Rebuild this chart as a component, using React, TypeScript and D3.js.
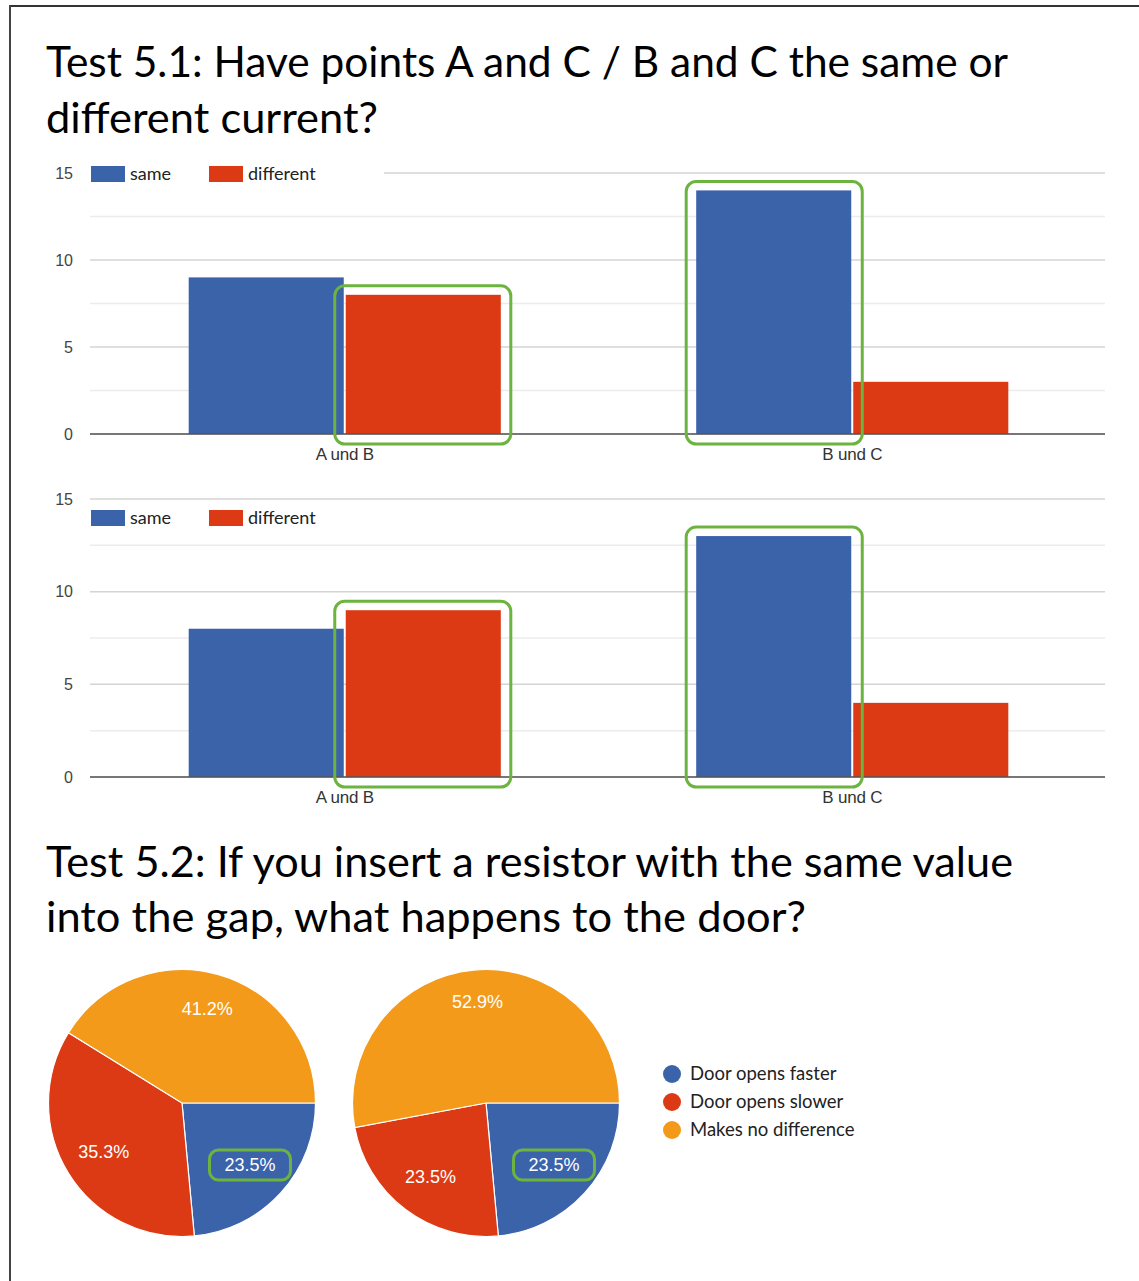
import React from "react";
import * as d3 from "d3";

const categories = ["A und B", "B und C"];
const seriesNames = ["same", "different"];
const chart1Same = [9, 14];
const chart1Different = [8, 3];
const chart2Same = [8, 13];
const chart2Different = [9, 4];
const yTicks = [0, 5, 10, 15];
const yGrid = [0, 2.5, 5, 7.5, 10, 12.5, 15];

const pieLabels = ["Door opens faster", "Door opens slower", "Makes no difference"];
const pie1Counts = [4, 6, 7];
const pie2Counts = [4, 4, 9];

const COLORS = ["#3b63aa", "#dc3a14", "#f39a1b"];
const GREEN = "#6db33f";
const AX_FONT = "'Liberation Sans', Arial, sans-serif";
const TXT_FONT = "Lato, 'Open Sans', sans-serif";

type BarProps = {
  top: number;
  bottom: number;
  same: number[];
  different: number[];
  legendY: number;
  gridMaskRight?: number;
  highlightSeries: string[];
};

function BarChart({ top, bottom, same, different, legendY, gridMaskRight, highlightSeries }: BarProps) {
  const left = 90;
  const right = 1105;
  const y = d3.scaleLinear().domain([0, 15]).range([bottom, top]);
  const x0 = d3.scaleBand().domain(categories).range([left + 1, right + 1]).paddingInner(0.385).paddingOuter(0.1925);
  const x1 = d3.scaleBand().domain(seriesNames).range([0, x0.bandwidth()]);
  const data = categories.map((c, i) => ({ cat: c, same: same[i], different: different[i] }));
  return (
    <g>
      {yGrid.map((t) => (
        <line key={t} x1={left} x2={right} y1={y(t)} y2={y(t)}
          stroke={t % 5 === 0 ? "#d4d4d4" : "#ececec"} strokeWidth={1.5} />
      ))}
      {gridMaskRight !== undefined && (
        <rect x={left - 2} y={y(15) - 6} width={gridMaskRight - left + 2} height={12} fill="#fff" />
      )}
      {yTicks.map((t) => (
        <text key={t} x={73} y={y(t)} dy="0.35em" textAnchor="end" fontFamily={AX_FONT} fontSize={16} fill="#444">
          {t}
        </text>
      ))}
      {data.map((d) => (
        <g key={d.cat} transform={`translate(${x0(d.cat)},0)`}>
          {seriesNames.map((s, si) => {
            const v = (d as any)[s] as number;
            return (
              <rect key={s} x={x1(s)! + (si === 1 ? 1 : 0)} y={y(v)} width={x1.bandwidth() - 1}
                height={y(0) - y(v)} fill={COLORS[si]} />
            );
          })}
        </g>
      ))}
      <line x1={left} x2={right} y1={y(0)} y2={y(0)} stroke="#555" strokeWidth={1.5} />
      {categories.map((c) => (
        <text key={c} x={x0(c)! + x0.bandwidth() / 2} y={y(0) + 20} dy="0.35em" textAnchor="middle"
          fontFamily={AX_FONT} fontSize={17} fill="#333" letterSpacing="-0.2">
          {c}
        </text>
      ))}
      {data.map((d, i) => {
        const s = highlightSeries[i];
        const v = (d as any)[s] as number;
        const bx = x0(d.cat)! + x1(s)!;
        return (
          <rect key={"h" + i} x={bx - 10} y={y(v) - 9} width={x1.bandwidth() + 20}
            height={y(0) - y(v) + 19} rx={10} fill="none" stroke={GREEN} strokeWidth={3} />
        );
      })}
      {seriesNames.map((s, si) => (
        <g key={s} transform={`translate(${91 + si * 118},${legendY})`}>
          <rect x={0} y={-8} width={34} height={16} fill={COLORS[si]} />
          <text x={39} y={0} dy="0.35em" fontFamily={TXT_FONT} fontSize={18} fill="#222">{s}</text>
        </g>
      ))}
    </g>
  );
}

function Pie({ cx, cy, counts }: { cx: number; cy: number; counts: number[] }) {
  const r = 133.5;
  const total = d3.sum(counts);
  const pie = d3.pie<number>().sort(null).startAngle(Math.PI / 2).endAngle(Math.PI / 2 + 2 * Math.PI);
  const arcs = pie(counts);
  const arc = d3.arc<d3.PieArcDatum<number>>().innerRadius(0).outerRadius(r);
  const labelArc = d3.arc<d3.PieArcDatum<number>>().innerRadius(184).outerRadius(0);
  const fmt = (v: number) => ((v / total) * 100).toFixed(1) + "%";
  return (
    <g transform={`translate(${cx},${cy})`}>
      {arcs.map((a, i) => (
        <path key={i} d={arc(a)!} fill={COLORS[i]} stroke="#fff" strokeWidth={1.2} />
      ))}
      {arcs.map((a, i) => {
        let [lx, ly] = labelArc.centroid(a);
        const big = a.endAngle - a.startAngle > 0.4 * 2 * Math.PI;
        if (big) ly -= 6 + (a.endAngle - a.startAngle > Math.PI ? 4 : 0);
        return (
          <g key={"l" + i}>
            {i === 0 && (
              <rect x={lx - 40.5} y={ly - 15} width={81} height={30} rx={9} fill="none" stroke={GREEN} strokeWidth={3} />
            )}
            <text x={lx} y={ly} dy="0.35em" textAnchor="middle" fontFamily={AX_FONT} fontSize={18} fill="#fff">
              {fmt(a.data)}
            </text>
          </g>
        );
      })}
    </g>
  );
}

export default function App() {
  return (
    <svg width={1139} height={1281} style={{ position: "absolute", left: 0, top: 0, background: "#fff" }}>
      <rect x={0} y={0} width={1139} height={1281} fill="#fff" />
      <line x1={9} x2={1139} y1={6} y2={6} stroke="#333" strokeWidth={2} />
      <line x1={10} x2={10} y1={5} y2={1281} stroke="#444" strokeWidth={2} />
      <text x={46} y={77} fontFamily={TXT_FONT} fontSize={42} fill="#000" textLength={962} lengthAdjust="spacingAndGlyphs">
        Test 5.1: Have points A and C / B and C the same or
      </text>
      <text x={46} y={133} fontFamily={TXT_FONT} fontSize={42} fill="#000" textLength={332} lengthAdjust="spacingAndGlyphs">
        different current?
      </text>
      <BarChart top={173} bottom={434} same={chart1Same} different={chart1Different} legendY={174}
        gridMaskRight={384} highlightSeries={["different", "same"]} />
      <BarChart top={499} bottom={777} same={chart2Same} different={chart2Different} legendY={518}
        highlightSeries={["different", "same"]} />
      <text x={46} y={877} fontFamily={TXT_FONT} fontSize={42} fill="#000" textLength={967} lengthAdjust="spacingAndGlyphs">
        Test 5.2: If you insert a resistor with the same value
      </text>
      <text x={46} y={932} fontFamily={TXT_FONT} fontSize={42} fill="#000" textLength={760} lengthAdjust="spacingAndGlyphs">
        into the gap, what happens to the door?
      </text>
      <Pie cx={182} cy={1103} counts={pie1Counts} />
      <Pie cx={486} cy={1103} counts={pie2Counts} />
      {pieLabels.map((l, i) => (
        <g key={l} transform={`translate(672,${1074 + i * 28})`}>
          <circle r={9} fill={COLORS[i]} />
          <text x={18} y={0} dy="0.35em" fontFamily={TXT_FONT} fontSize={18.5} fill="#222">{l}</text>
        </g>
      ))}
    </svg>
  );
}
